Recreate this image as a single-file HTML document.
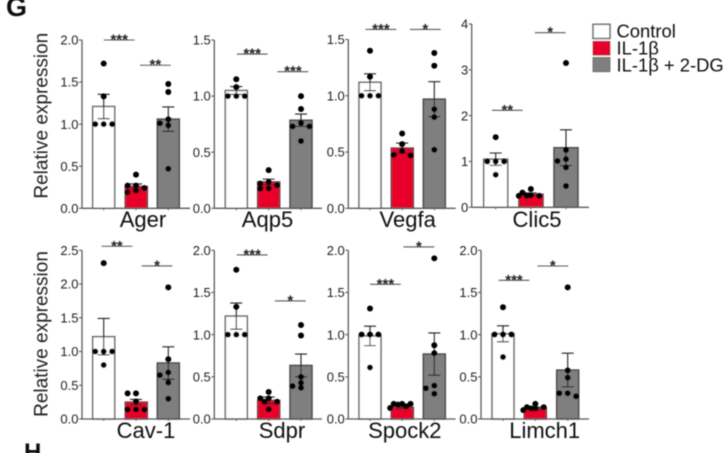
<!DOCTYPE html>
<html lang="en">
<head>
<meta charset="utf-8">
<title>Relative expression bar charts</title>
<style>
html,body{margin:0;padding:0;background:#fff;width:728px;height:453px;overflow:hidden}
svg{display:block;font-family:"Liberation Sans",sans-serif}
</style>
</head>
<body>
<svg id="figure" width="728" height="453" viewBox="0 0 728 453" xmlns="http://www.w3.org/2000/svg">
  <defs><filter id="soft" x="-2%" y="-2%" width="104%" height="104%"><feGaussianBlur stdDeviation="0.5"/></filter></defs>
  <g id="root" filter="url(#soft)">
    <text x="6" y="16" font-size="27" font-weight="700" fill="#111">G</text>
    <text x="24" y="460" font-size="24" font-weight="700" fill="#111">H</text>
    <g>
      <rect x="593" y="24.3" width="17" height="14.2" fill="#fff" stroke="#6b6b6b" stroke-width="1.5"/>
      <text x="616.5" y="37.7" font-size="18.4" fill="#111">Control</text>
      <rect x="593" y="41.3" width="17" height="13.8" fill="#e8022c" stroke="#8a4a55" stroke-width="0.6"/>
      <text x="616.5" y="54.3" font-size="18.4" fill="#111">IL-1β</text>
      <rect x="593" y="57.5" width="17" height="14.2" fill="#7f7f7f" stroke="#666" stroke-width="0.8"/>
      <text x="616.5" y="71.6" font-size="18.4" fill="#111">IL-1β + 2-DG</text>
    </g>
  </g>
</svg>
<script>
// ---- chart data ----
const genes = ["Ager","Aqp5","Vegfa","Clic5","Cav-1","Sdpr","Spock2","Limch1"];
const groups = ["control","il-1b","il-1b-2dg"];
const yMax = [2,1.5,1.5,4,2.5,2,2,2];
const yTickLabels = [
  ["0.0","0.5","1.0","1.5","2.0"],
  ["0.0","0.5","1.0","1.5"],
  ["0.0","0.5","1.0","1.5"],
  ["0","1","2","3","4"],
  ["0.0","0.5","1.0","1.5","2.0","2.5"],
  ["0.0","0.5","1.0","1.5","2.0"],
  ["0.0","0.5","1.0","1.5","2.0"],
  ["0.0","0.5","1.0","1.5","2.0"]
];
const controlMeans = [1.21,1.05,1.12,1.05,1.22,1.22,0.985,1.01];
const il1bMeans = [0.26,0.235,0.535,0.285,0.25,0.22,0.14,0.125];
const dgMeans = [1.06,0.785,0.97,1.30,0.83,0.635,0.77,0.58];
const controlErrors = [0.145,0.035,0.075,0.135,0.27,0.155,0.115,0.095];
const il1bErrors = [0.03,0.025,0.045,0.03,0.04,0.04,0.015,0.015];
const dgErrors = [0.145,0.055,0.155,0.39,0.24,0.135,0.25,0.20];
const controlPoints = [
  [1.72,1.33,1,1,1],
  [1.15,1.08,1,1,1],
  [1.40,1.17,1,1,1],
  [1.53,1,1,1,0.71],
  [2.31,1,1,1,0.80],
  [1.77,1.33,1,1,1],
  [1.31,1,1,1,0.61],
  [1.325,1,1,1,0.735]
];
const il1bPoints = [
  [0.40,0.27,0.27,0.24,0.21,0.19],
  [0.34,0.234,0.22,0.205,0.178,0.175],
  [0.665,0.57,0.51,0.475,0.47],
  [0.40,0.32,0.26,0.25,0.25,0.25],
  [0.38,0.38,0.26,0.14,0.14,0.14],
  [0.32,0.245,0.245,0.205,0.205,0.115],
  [0.18,0.18,0.18,0.17,0.15,0.13],
  [0.18,0.14,0.14,0.125,0.125,0.105]
];
const dgPoints = [
  [1.477,1.382,1.057,1.01,0.986,0.47],
  [1.0,0.885,0.76,0.73,0.73,0.60],
  [1.38,1.267,0.88,0.81,0.52],
  [3.15,1.25,1.05,1.01,0.87,0.465],
  [1.95,0.885,0.69,0.65,0.54,0.30],
  [1.115,0.99,0.50,0.43,0.39,0.37],
  [1.905,0.875,0.78,0.395,0.365,0.30],
  [1.56,0.575,0.49,0.305,0.305,0.27]
];
const sigFirstLevels = [2.0,1.375,1.589,2.116,2.56,1.945,1.597,1.644];
const sigSecondLevels = [1.70,1.218,1.589,3.81,2.268,1.40,2.04,1.814];
const sigFirstCategory = [0.48,0.49,0.34,0.33,0.41,0.49,0.48,0.34];
const sigSecondCategory = [1.60,1.75,1.72,1.55,1.65,1.67,1.52,1.54];
const sigFirstLabels = ["***","***","***","**","**","***","***","***"];
const sigSecondLabels = ["**","***","*","*","*","*","*","*"];

// ---- layout (not data) ----
const layout = [
  {ax:82,  end:190,   bars:[92.7,125.3,157.3],  w:22,   top:40,    bot:208.3, lx:143,   ly:227},
  {ax:214.3,end:322,  bars:[225.3,257.7,290],   w:22,   top:40,    bot:208.3, lx:267.5, ly:227},
  {ax:348.3,end:455.7,bars:[359,391.3,423.3],   w:22,   top:39.5,  bot:208.3, lx:407.7, ly:227},
  {ax:471.7,end:589,  bars:[483.7,519,554],     w:24,   top:24,    bot:207.3, lx:537,   ly:227},
  {ax:82,  end:190,   bars:[92.7,125.3,157.3],  w:22,   top:250.3, bot:419,   lx:146,   ly:438},
  {ax:214.3,end:322,  bars:[225.3,257.7,290],   w:22,   top:250.3, bot:419,   lx:282,   ly:438},
  {ax:348.3,end:455.7,bars:[359,391.3,423.3],   w:22,   top:250.3, bot:419,   lx:404.8, ly:438},
  {ax:481,  end:589,  bars:[492,524.3,556.7],   w:22,   top:250.3, bot:419,   lx:544.7, ly:438}
];
const fills = ["#ffffff","#e8022c","#7f7f7f"];
const strokes = ["#6a6a6a","#7a3a45","#4d4d4d"];
const NS = "http://www.w3.org/2000/svg";
const root = document.getElementById("root");

function make(tag, parent, props){
  const el = document.createElementNS(NS, tag);
  for (const k in props) el.setAttribute(k, props[k]);
  parent.appendChild(el);
  return el;
}

const swarmOffsets = [0,-8.4,8.4,-4.2,4.2,-12,12];
function swarm(values, y){
  // place each point at the first slot around the centre that avoids overlap
  const sorted = values.slice().sort((a,b)=>b-a);
  const placed = [];
  sorted.forEach(v=>{
    const py = y(v);
    let best = 0, bestD = -1;
    for (const off of swarmOffsets){
      let d = Infinity;
      placed.forEach(p=>{ d = Math.min(d, Math.hypot(p.off-off, p.py-py)); });
      if (d >= 5){ best = off; bestD = d; break; }
      if (d > bestD){ best = off; bestD = d; }
    }
    placed.push({v:v, py:py, off:best});
  });
  return placed;
}

genes.forEach((gene,g)=>{
  const L = layout[g];
  const y = v => L.bot - (v/yMax[g])*(L.bot-L.top);
  const center = c => L.bars[0] + L.w/2 + c*(L.bars[2]-L.bars[0])/2;

  const panel = make("g", root, {});
  
  

  const means = [controlMeans[g], il1bMeans[g], dgMeans[g]];
  const errs = [controlErrors[g], il1bErrors[g], dgErrors[g]];
  const pts = [controlPoints[g], il1bPoints[g], dgPoints[g]];

  // bars
  means.forEach((m,i)=>{
    const bar = make("rect", panel, {x:L.bars[i], y:y(m), width:L.w, height:L.bot-y(m), fill:fills[i], stroke:strokes[i], "stroke-width":1.5});
    
    
  });

  // axes
  const yAxis = make("line", panel, {x1:L.ax, x2:L.ax, y1:L.top, y2:L.bot, stroke:"#5a5a5a", "stroke-width":1.3});
  
  
  const xAxis = make("line", panel, {x1:L.ax, x2:L.end, y1:L.bot, y2:L.bot, stroke:"#5a5a5a", "stroke-width":1.3});
  
  

  // y ticks
  yTickLabels[g].forEach(label=>{
    const v = parseFloat(label);
    const tick = make("line", panel, {x1:L.ax-3, x2:L.ax, y1:y(v), y2:y(v), stroke:"#5a5a5a", "stroke-width":1.1});
    
    
    const txt = make("text", panel, {x:L.ax-3.5, y:y(v)+4.6, "text-anchor":"end", "font-size":13, fill:"#222"});
    txt.textContent = label;
    
    
  });

  // x ticks
  groups.forEach((_,i)=>{
    const tick = make("line", panel, {x1:center(i), x2:center(i), y1:L.bot, y2:L.bot+2, stroke:"#5a5a5a", "stroke-width":0.9});
    
    
  });

  // error bars
  means.forEach((m,i)=>{
    const c = center(i);
    const err = make("path", panel, {
      d:"M"+c+" "+y(m+errs[i])+"V"+y(m-errs[i])+"M"+(c-6)+" "+y(m+errs[i])+"H"+(c+6)+"M"+(c-6)+" "+y(m-errs[i])+"H"+(c+6),
      fill:"none", stroke:"#222", "stroke-width":1.1
    });
    
    
  });

  // points
  pts.forEach((arr,i)=>{
    swarm(arr, y).forEach(p=>{
      const dot = make("circle", panel, {cx:center(i)+p.off, cy:p.py, r:3, fill:"#000"});
      
      
    });
  });

  // significance brackets
  [[sigFirstCategory[g], sigFirstLevels[g], sigFirstLabels[g]],
   [sigSecondCategory[g], sigSecondLevels[g], sigSecondLabels[g]]].forEach(s=>{
    const c = center(s[0]);
    const ly = y(s[1]);
    const ln = make("line", panel, {x1:c-15.4, x2:c+15.4, y1:ly, y2:ly, stroke:"#5a5a5a", "stroke-width":1.1});
    
    
    const st = make("text", panel, {x:c, y:ly+4.5, "text-anchor":"middle", "font-size":15, "font-weight":700, fill:"#222"});
    st.textContent = s[2];
    
    
  });

  // gene label
  const lab = make("text", panel, {x:L.lx, y:L.ly, "text-anchor":"middle", "font-size":22, fill:"#111"});
  lab.textContent = gene;
  
  
});

// y-axis titles
[115.7, 334].forEach(cy=>{
  const t = make("text", root, {x:0, y:0, transform:"translate(47.5 "+cy+") rotate(-90)", "text-anchor":"middle", "font-size":19, fill:"#222"});
  t.textContent = "Relative expression";
  
  
});
</script>
</body>
</html>
